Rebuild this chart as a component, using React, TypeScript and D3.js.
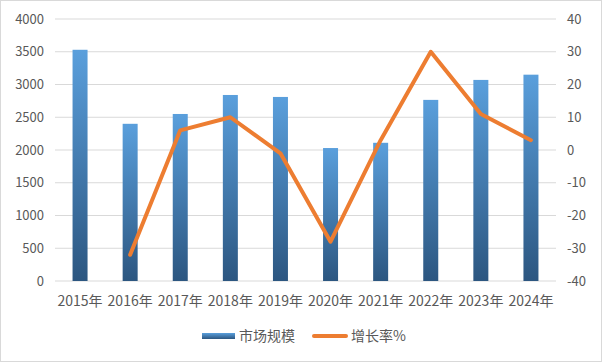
import React, { useEffect, useRef } from 'react';
import * as d3 from 'd3';

// chart data
const years = ['2015年', '2016年', '2017年', '2018年', '2019年', '2020年', '2021年', '2022年', '2023年', '2024年'];
const marketSize = [3530, 2400, 2550, 2840, 2810, 2030, 2110, 2765, 3070, 3150];
const growthYears = ['2016年', '2017年', '2018年', '2019年', '2020年', '2021年', '2022年', '2023年', '2024年'];
const growthRate = [-32, 6, 10, -1, -28, 3, 30, 11, 3];
const leftTicks = [0, 500, 1000, 1500, 2000, 2500, 3000, 3500, 4000];
const rightTicks = [-40, -30, -20, -10, 0, 10, 20, 30, 40];

const FONT = '"Noto Sans CJK SC", "Noto Sans", sans-serif';

const App = () => {
  const ref = useRef<SVGSVGElement>(null);

  useEffect(() => {
    const svg = d3.select(ref.current);
    svg.selectAll('*').remove();

    const width = 602;
    const height = 362;
    const left = 55;
    const right = 556;
    const top = 19;
    const bottom = 281;

    // outer frame
    svg.append('rect')
      .attr('x', 0.5).attr('y', 0.5)
      .attr('width', width - 1).attr('height', height - 1)
      .attr('fill', '#fff').attr('stroke', '#d9d9d9');

    const defs = svg.append('defs');
    const grad = defs.append('linearGradient')
      .attr('id', 'barGrad').attr('x1', 0).attr('y1', 0).attr('x2', 0).attr('y2', 1);
    grad.append('stop').attr('offset', '0%').attr('stop-color', '#5A9FDC');
    grad.append('stop').attr('offset', '100%').attr('stop-color', '#2C5680');
    const legGrad = defs.append('linearGradient')
      .attr('id', 'legGrad').attr('x1', 0).attr('y1', 0).attr('x2', 0).attr('y2', 1);
    legGrad.append('stop').attr('offset', '0%').attr('stop-color', '#5A9FDC');
    legGrad.append('stop').attr('offset', '100%').attr('stop-color', '#2C5680');

    const x = d3.scaleBand().domain(years).range([left, right]);
    const yL = d3.scaleLinear().domain([0, 4000]).range([bottom, top]);
    const yR = d3.scaleLinear().domain([-40, 40]).range([bottom, top]);

    // gridlines
    svg.append('g').selectAll('line').data(leftTicks).enter().append('line')
      .attr('x1', left).attr('x2', right)
      .attr('y1', (d) => yL(d)).attr('y2', (d) => yL(d))
      .attr('stroke', '#d9d9d9').attr('stroke-width', 1);

    // left axis labels
    svg.append('g').selectAll('text').data(leftTicks).enter().append('text')
      .attr('x', 44).attr('y', (d) => yL(d))
      .attr('dy', '0.35em')
      .attr('text-anchor', 'end')
      .style('font-family', FONT).style('font-size', '13px').attr('fill', '#595959')
      .text((d) => d);

    // right axis labels
    svg.append('g').selectAll('text').data(rightTicks).enter().append('text')
      .attr('x', 567).attr('y', (d) => yR(d))
      .attr('dy', '0.35em')
      .attr('text-anchor', 'start')
      .style('font-family', FONT).style('font-size', '13px').attr('fill', '#595959')
      .text((d) => d);

    // bars
    const barW = 15;
    svg.append('g').selectAll('rect').data(marketSize).enter().append('rect')
      .attr('x', (d, i) => x(years[i])! + x.bandwidth() / 2 - barW / 2)
      .attr('y', (d) => yL(d))
      .attr('width', barW)
      .attr('height', (d) => bottom - yL(d))
      .attr('fill', 'url(#barGrad)');

    // growth line
    const line = d3.line<number>()
      .x((d, i) => x(growthYears[i])! + x.bandwidth() / 2)
      .y((d) => yR(d));
    svg.append('path')
      .datum(growthRate)
      .attr('d', line)
      .attr('fill', 'none')
      .attr('stroke', '#ED7D31')
      .attr('stroke-width', 4)
      .attr('stroke-linejoin', 'round')
      .attr('stroke-linecap', 'round');

    // x labels
    svg.append('g').selectAll('text').data(years).enter().append('text')
      .attr('x', (d) => x(d)! + x.bandwidth() / 2)
      .attr('y', 301)
      .attr('dy', '0.35em')
      .attr('text-anchor', 'middle')
      .style('font-family', FONT).style('font-size', '14px').attr('fill', '#595959')
      .text((d) => d);

    // legend
    const leg = svg.append('g');
    leg.append('rect').attr('x', 202).attr('y', 333).attr('width', 33).attr('height', 6)
      .attr('fill', 'url(#legGrad)');
    leg.append('text').attr('x', 239).attr('y', 336).attr('dy', '0.35em')
      .style('font-family', FONT).style('font-size', '14px').attr('fill', '#595959')
      .text('市场规模');
    leg.append('line').attr('x1', 314).attr('x2', 346).attr('y1', 336).attr('y2', 336)
      .attr('stroke', '#ED7D31').attr('stroke-width', 4).attr('stroke-linecap', 'round');
    leg.append('text').attr('x', 351).attr('y', 336).attr('dy', '0.35em')
      .style('font-family', FONT).style('font-size', '14px').attr('fill', '#595959')
      .text('增长率%');
  }, []);

  return (
    <div style={{ position: 'fixed', left: 0, top: 0 }}>
      <svg ref={ref} width={602} height={362} style={{ display: 'block' }}></svg>
    </div>
  );
};

export default App;
